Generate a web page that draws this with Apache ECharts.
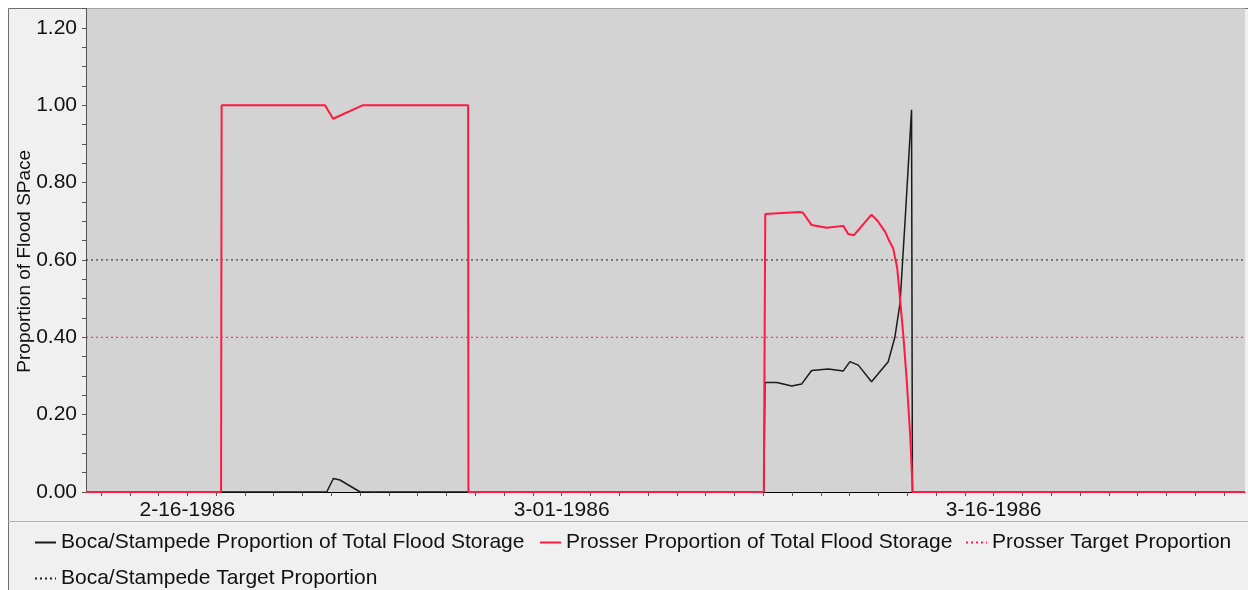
<!DOCTYPE html>
<html>
<head>
<meta charset="utf-8">
<script src="https://cdn.jsdelivr.net/npm/echarts@6/dist/echarts.min.js"></script>
<style>
html, body { margin: 0; padding: 0; background: #ffffff; }
#chart { width: 1248px; height: 590px; }
</style>
</head>
<body>
<div id="chart"></div>
<script>
// x values are days after 2-16-1986 00:00
const xMin = -3.52
const xMax = 36.73
const xLabelDays = [0, 13, 28]
const xLabelText = ['2-16-1986', '3-01-1986', '3-16-1986']
const yLabels = [0, 0.2, 0.4, 0.6, 0.8, 1.0, 1.2]

const bocaDays = [-3.52, 4.84, 5.07, 5.30, 6.00, 20.02, 20.06, 20.47, 20.99, 21.33, 21.68, 22.26, 22.78, 23.01, 23.30, 23.76, 24.05, 24.34, 24.57, 24.75, 24.92, 25.15, 25.18, 36.73]
const bocaValues = [0, 0, 0.035, 0.031, 0, 0, 0.283, 0.283, 0.274, 0.279, 0.314, 0.318, 0.313, 0.337, 0.328, 0.285, 0.311, 0.337, 0.400, 0.488, 0.695, 0.988, 0, 0]

const prosserDays = [-3.52, 1.17, 1.19, 4.78, 5.06, 6.10, 9.75, 9.76, 20.02, 20.07, 21.27, 21.38, 21.68, 22.20, 22.78, 22.95, 23.15, 23.76, 23.98, 24.23, 24.37, 24.51, 24.65, 24.75, 24.87, 24.99, 25.10, 25.19, 36.73]
const prosserValues = [0, 0, 1.0, 1.0, 0.965, 1.0, 1.0, 0, 0, 0.719, 0.724, 0.722, 0.690, 0.683, 0.688, 0.667, 0.664, 0.717, 0.700, 0.673, 0.650, 0.630, 0.580, 0.500, 0.400, 0.280, 0.150, 0, 0]

const prosserTarget = 0.40
const bocaTarget = 0.60

const names = [
  'Boca/Stampede Proportion of Total Flood Storage',
  'Prosser Proportion of Total Flood Storage',
  'Prosser Target Proportion',
  'Boca/Stampede Target Proportion'
]

const red = '#ff1a40'
const dark = '#1a1a1a'
const font = 'Liberation Sans'

const pairs = (xs, ys) => xs.map((x, i) => [x, ys[i]])

let xTicks = []
for (let d = Math.ceil(xMin); d <= xMax; d++) xTicks.push(d)

const legendBase = {
  itemWidth: 21,
  itemHeight: 12,
  itemGap: 5,
  itemStyle: { opacity: 0 },
  textStyle: { fontFamily: font, fontSize: 21, color: '#111' },
  inactiveColor: '#999'
}

const chart = echarts.init(document.getElementById('chart'), null, { renderer: 'canvas' })

chart.setOption({
  animation: false,
  backgroundColor: '#ffffff',
  graphic: [
    { type: 'rect', z: -10, silent: true, shape: { x: 8.5, y: 8.5, width: 1245, height: 590 }, style: { fill: '#f0f0f0', stroke: '#707070', lineWidth: 1 } },
    { type: 'line', z: -5, silent: true, shape: { x1: 8, y1: 521.5, x2: 1248, y2: 521.5 }, style: { stroke: '#b4b4b4', lineWidth: 1 } }
  ],
  grid: {
    left: 86, right: 3, top: 8.5, bottom: 98,
    outerBoundsMode: 'none',
    containLabel: false,
    show: true, backgroundColor: '#d3d3d3', borderWidth: 0
  },
  legend: [
    Object.assign({}, legendBase, { data: [names[0]], left: 29, top: 527 }),
    Object.assign({}, legendBase, { data: [names[1]], left: 534, top: 527 }),
    Object.assign({}, legendBase, { data: [names[2]], left: 960, top: 527 }),
    Object.assign({}, legendBase, { data: [names[3]], left: 29, top: 563 })
  ],
  xAxis: {
    type: 'value',
    min: xMin,
    max: xMax,
    splitLine: { show: false },
    axisLine: { onZero: false, lineStyle: { color: '#000', width: 1 } },
    axisTick: { show: true, customValues: xTicks, length: 4, lineStyle: { color: '#555' } },
    axisLabel: {
      customValues: xLabelDays,
      margin: 8,
      fontFamily: font, fontSize: 21, color: '#111',
      formatter: v => {
        const i = xLabelDays.findIndex(d => Math.abs(d - v) < 1e-6)
        return i >= 0 ? xLabelText[i] : ''
      }
    }
  },
  yAxis: {
    type: 'value',
    min: 0,
    max: 1.25,
    interval: 0.05,
    name: 'Proportion of Flood SPace',
    nameLocation: 'middle',
    nameGap: 52,
    nameMoveOverlap: false,
    nameTextStyle: { fontFamily: font, fontSize: 19, color: '#111', padding: [0, 22, 0, 0] },
    splitLine: { show: false },
    axisLine: { show: true, onZero: false, lineStyle: { color: '#555', width: 1 } },
    axisTick: { show: true, length: 4, lineStyle: { color: '#555' } },
    axisLabel: {
      customValues: yLabels,
      margin: 9,
      fontFamily: font, fontSize: 21, color: '#111',
      formatter: v => v.toFixed(2)
    }
  },
  series: [
    {
      name: names[3], type: 'line', symbol: 'none', silent: true,
      data: [[xMin, bocaTarget], [xMax, bocaTarget]],
      lineStyle: { color: '#222', width: 1, type: [2, 3] },
      itemStyle: { color: '#222' }
    },
    {
      name: names[2], type: 'line', symbol: 'none', silent: true,
      data: [[xMin, prosserTarget], [xMax, prosserTarget]],
      lineStyle: { color: red, width: 1, type: [2, 3] },
      itemStyle: { color: red }
    },
    {
      name: names[0], type: 'line', symbol: 'none',
      data: pairs(bocaDays, bocaValues),
      lineStyle: { color: dark, width: 1.5 },
      itemStyle: { color: dark }
    },
    {
      name: names[1], type: 'line', symbol: 'none',
      data: pairs(prosserDays, prosserValues),
      lineStyle: { color: red, width: 2 },
      itemStyle: { color: red }
    }
  ]
})
</script>
</body>
</html>
